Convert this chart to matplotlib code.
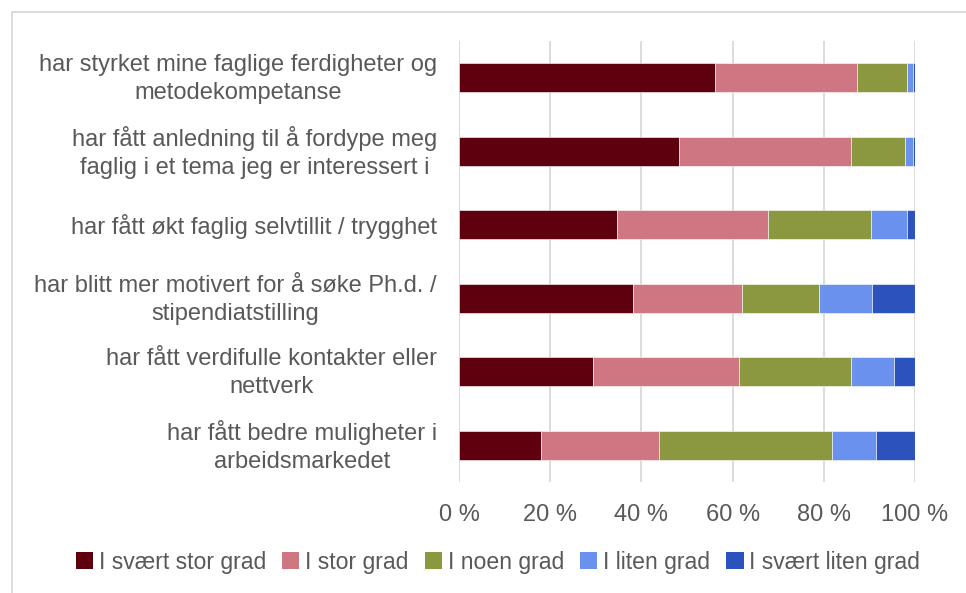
import matplotlib
matplotlib.use("Agg")
import matplotlib.pyplot as plt
from matplotlib.patches import Rectangle, Patch
from matplotlib.transforms import ScaledTranslation, blended_transform_factory

plt.rcParams['font.family'] = ['Liberation Sans', 'DejaVu Sans']

categories = [
    "har styrket mine faglige ferdigheter og\nmetodekompetanse",
    "har fått anledning til å fordype meg\nfaglig i et tema jeg er interessert i",
    "har fått økt faglig selvtillit / trygghet",
    "har blitt mer motivert for å søke Ph.d. /\nstipendiatstilling",
    "har fått verdifulle kontakter eller\nnettverk",
    "har fått bedre muligheter i\narbeidsmarkedet",
]
series_names = ["I svært stor grad", "I stor grad", "I noen grad", "I liten grad", "I svært liten grad"]
svaert_stor = [56.2, 48.3, 34.6, 38.2, 29.4, 18.0]
stor = [31.0, 37.7, 33.2, 23.9, 32.1, 25.9]
noen = [11.1, 11.9, 22.6, 16.8, 24.5, 37.9]
liten = [1.2, 1.6, 7.8, 11.7, 9.3, 9.6]
svaert_liten = [0.5, 0.5, 1.8, 9.4, 4.7, 8.6]
xticks = [0, 20, 40, 60, 80, 100]
xticklabels = ["0 %", "20 %", "40 %", "60 %", "80 %", "100 %"]

colors = ["#5E000E", "#CE7682", "#8C983F", "#6A91EE", "#2B52BD"]
text_color = "#595959"

fig = plt.figure(figsize=(9.66, 5.93), dpi=100)
ax = fig.add_axes([459/966, 1-482/593, (915-459)/966, (482-41)/593])

series = [svaert_stor, stor, noen, liten, svaert_liten]
y = list(range(len(categories)))
left = [0.0]*len(categories)
for vals, col, name in zip(series, colors, series_names):
    ax.barh(y, vals, left=left, height=0.4, color=col, edgecolor='white', linewidth=0.4, label=name, zorder=3)
    left = [l+v for l, v in zip(left, vals)]

ax.set_ylim(len(categories)-0.5, -0.5)
ax.set_xlim(0, 100)
ax.set_xticks(xticks)
ax.set_xticklabels(xticklabels, fontsize=17, color=text_color)
ax.set_yticks(y)
ax.set_yticklabels([])
trans = blended_transform_factory(ax.transAxes, ax.transData) + ScaledTranslation(-22/100, -1.5/100, fig.dpi_scale_trans)
for yi, cat in zip(y, categories):
    ax.text(0, yi, cat, transform=trans, ha='right', va='center', fontsize=17, color=text_color,
            multialignment='center', linespacing=1.33)
ax.tick_params(axis='both', length=0)
ax.tick_params(axis='x', pad=16)
ax.grid(axis='x', color='#D9D9D9', linewidth=1.3, zorder=0)
for s in ax.spines.values():
    s.set_visible(False)

handles = [Patch(facecolor=c, edgecolor='none') for c in colors]
fig.legend(handles, series_names, loc='center', bbox_to_anchor=(498/966, 1-562/593), ncol=5,
           frameon=False, fontsize=16.6, labelcolor=text_color, handlelength=0.75, handleheight=0.75,
           handletextpad=0.25, columnspacing=0.7)

fig.patches.append(Rectangle((12/966, -0.05), 1.2, 1-12/593+0.05, transform=fig.transFigure,
                             fill=False, edgecolor='#D9D9D9', linewidth=1.3))

fig.savefig("out.png", dpi=100)
